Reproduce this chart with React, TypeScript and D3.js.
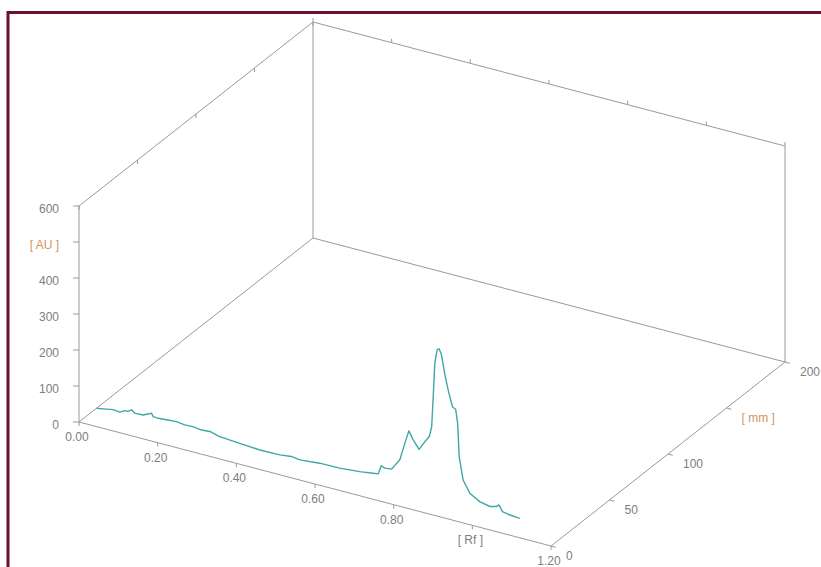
import React, { useEffect, useRef } from 'react';
import * as d3 from 'd3';

// densitogram track (Rf, AU)
const rfValues = [
  0.0, 0.017, 0.042, 0.059, 0.072, 0.08, 0.089, 0.097, 0.118, 0.14, 0.144, 0.157,
  0.178, 0.203, 0.224, 0.245, 0.267, 0.288, 0.313, 0.364, 0.415, 0.466, 0.495,
  0.517, 0.567, 0.618, 0.669, 0.703, 0.716, 0.724, 0.733, 0.75, 0.771, 0.784,
  0.794, 0.805, 0.82, 0.835, 0.846, 0.852, 0.856, 0.86, 0.866, 0.871, 0.877,
  0.885, 0.894, 0.905, 0.913, 0.918, 0.922, 0.932, 0.949, 0.974, 1.0, 1.017,
  1.023, 1.032, 1.051, 1.076,
];
const auValues = [
  0, 3, 8, 6, 14, 14, 21, 14, 15, 26, 18, 17,
  19, 21, 18, 19, 16, 18, 11, 7, 3, 4, 8,
  5, 10, 11, 16, 21, 23, 48, 44, 46, 78, 128,
  165, 143, 121, 147, 164, 193, 278, 372, 411, 415, 400,
  351, 307, 263, 259, 222, 130, 68, 36, 20, 14, 19,
  25, 9, 5, 3,
];
const trackMm = 15;

const auTicks = [0, 100, 200, 300, 400, 500, 600];
const auLabels = ['0', '100', '200', '300', '400', '[ AU ]', '600'];
const rfTicks = [0, 0.2, 0.4, 0.6, 0.8, 1.0, 1.2];
const rfLabels = ['0.00', '0.20', '0.40', '0.60', '0.80', '[ Rf ]', '1.20'];
const mmTicks = [0, 50, 100, 150, 200];
const mmLabels = ['0', '50', '100', '[ mm ]', '200'];

export default function App() {
  const ref = useRef<SVGSVGElement>(null);

  useEffect(() => {
    const width = 821;
    const height = 567;
    const svg = d3.select(ref.current);
    svg.selectAll('*').remove();
    svg.attr('width', width).attr('height', height);

    const origin = { x: 79, y: 422 };
    // oblique projection: each axis contributes a screen offset
    const rfX = d3.scaleLinear().domain([0, 1.2]).range([0, 472]);
    const rfY = d3.scaleLinear().domain([0, 1.2]).range([0, 124]);
    const mmX = d3.scaleLinear().domain([0, 200]).range([0, 234]);
    const mmY = d3.scaleLinear().domain([0, 200]).range([0, -184]);
    const au = d3.scaleLinear().domain([0, 600]).range([0, -216]);

    const project = (rf: number, mm: number, v: number): [number, number] => [
      origin.x + rfX(rf) + mmX(mm),
      origin.y + rfY(rf) + mmY(mm) + au(v),
    ];

    // frame
    svg.append('path')
      .attr('d', `M8,${height} V12.5 H${width}`)
      .attr('fill', 'none')
      .attr('stroke', '#6d1038')
      .attr('stroke-width', 3);

    const axisColor = '#9a9a9a';
    const g = svg.append('g');

    const edges: [number, number, number, number, number, number][] = [
      [0, 0, 0, 0, 0, 600],
      [0, 0, 600, 0, 200, 600],
      [0, 200, 0, 0, 200, 600],
      [0, 200, 600, 1.2, 200, 600],
      [1.2, 200, 0, 1.2, 200, 600],
      [0, 0, 0, 0, 200, 0],
      [0, 200, 0, 1.2, 200, 0],
      [0, 0, 0, 1.2, 0, 0],
      [1.2, 0, 0, 1.2, 200, 0],
    ];
    edges.forEach((e) => {
      const a = project(e[0], e[1], e[2]);
      const b = project(e[3], e[4], e[5]);
      g.append('line')
        .attr('x1', a[0]).attr('y1', a[1])
        .attr('x2', b[0]).attr('y2', b[1])
        .attr('stroke', axisColor)
        .attr('stroke-width', 1);
    });

    const tick = (p: [number, number], dx: number, dy: number) => {
      g.append('line')
        .attr('x1', p[0]).attr('y1', p[1])
        .attr('x2', p[0] + dx).attr('y2', p[1] + dy)
        .attr('stroke', axisColor)
        .attr('stroke-width', 1);
    };

    const numColor = '#7d7d84';
    const unitColor = '#d3955e';
    const font = 'Liberation Sans, Arial, sans-serif';

    // AU axis
    auTicks.forEach((t, i) => {
      const p = project(0, 0, t);
      tick(p, -6, 0);
      svg.append('text')
        .attr('x', p[0] - 20)
        .attr('y', p[1] + 7)
        .attr('text-anchor', 'end')
        .attr('font-family', font)
        .attr('font-size', 12)
        .attr('fill', auLabels[i].startsWith('[') ? unitColor : numColor)
        .text(auLabels[i]);
    });

    // Rf axis (front) + back top edge ticks
    rfTicks.forEach((t, i) => {
      const p = project(t, 0, 0);
      tick(p, 0, 4);
      svg.append('text')
        .attr('x', p[0] - 2)
        .attr('y', p[1] + 19)
        .attr('text-anchor', 'middle')
        .attr('font-family', font)
        .attr('font-size', 12)
        .attr('fill', numColor)
        .text(rfLabels[i]);
      const q = project(t, 200, 600);
      tick(q, 0, -4);
    });

    // mm axis (right floor) + top-left edge ticks
    mmTicks.forEach((t, i) => {
      const p = project(1.2, t, 0);
      tick(p, 4.8, 1.3);
      svg.append('text')
        .attr('x', p[0] + 15)
        .attr('y', p[1] + 14)
        .attr('text-anchor', 'start')
        .attr('font-family', font)
        .attr('font-size', 12)
        .attr('fill', mmLabels[i].startsWith('[') ? unitColor : numColor)
        .text(mmLabels[i]);
      const q = project(0, t, 600);
      tick(q, 0, 4);
    });

    // the track
    const pts = rfValues.map((rf, i) => project(rf, trackMm, auValues[i]));
    svg.append('path')
      .attr('d', d3.line().curve(d3.curveLinear)(pts))
      .attr('fill', 'none')
      .attr('stroke', '#3fa7a4')
      .attr('stroke-width', 1.4)
      .attr('stroke-linejoin', 'round');
  }, []);

  return (
    <div style={{ position: 'absolute', left: 0, top: 0 }}>
      <svg ref={ref} style={{ display: 'block', background: '#fff' }}></svg>
    </div>
  );
}
